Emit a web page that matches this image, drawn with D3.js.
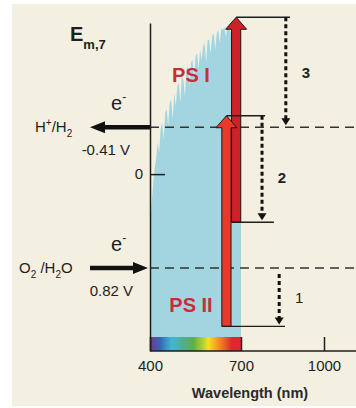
<!DOCTYPE html>
<html>
<head>
<meta charset="utf-8">
<script src="https://cdn.jsdelivr.net/npm/d3@7"></script>
<style>
  html, body { margin: 0; padding: 0; background: #fff; }
  svg { display: block; font-family: "Liberation Sans", Arial, sans-serif; }
</style>
</head>
<body>
<div id="chart"></div>
<script>
const specNm = [400, 405, 410, 415, 420, 425, 430, 435, 440, 445, 450, 455, 460, 465, 470, 475, 480, 485, 490, 495,
  500, 505, 510, 515, 520, 525, 530, 535, 540, 545, 550, 555, 560, 565, 570, 575, 580, 585, 590, 595,
  600, 605, 610, 615, 620, 625, 630, 635, 640, 645, 650, 655, 660, 665, 670, 675, 680, 685, 690, 695, 700];
const specRel = [0.36, 0.44, 0.50, 0.55, 0.58, 0.63, 0.60, 0.67, 0.69, 0.64, 0.72, 0.73, 0.68, 0.75, 0.76, 0.70, 0.78, 0.74, 0.80, 0.81,
  0.75, 0.83, 0.82, 0.77, 0.85, 0.86, 0.80, 0.87, 0.88, 0.82, 0.89, 0.90, 0.85, 0.91, 0.88, 0.92, 0.93, 0.87, 0.94, 0.94,
  0.90, 0.95, 0.96, 0.91, 0.96, 0.97, 0.93, 0.975, 0.97, 0.98, 0.95, 0.98, 0.98, 0.96, 0.98, 0.985, 0.97, 0.985, 0.985, 0.985, 0.985];

// rainbow strip along the wavelength axis
const bandNm = [400, 433, 471, 504, 543, 576, 592, 631, 669, 700];
const bandColors = ["#7a3590", "#3566b0", "#45b5d5", "#4fae9a", "#5cae46", "#b8d232", "#f6e11c", "#f0862a", "#e3262d", "#e3262d"];

const xTicks = [400, 700, 1000];
const yTicks = [0];

// redox couples on the Em,7 axis
const coupleE = [-0.41, 0.82];
const coupleVolts = ["-0.41 V", "0.82 V"];

// photosystem levels (V): ground state and excited state
const psNames = ["PS II", "PS I"];
const psGround = [1.33, 0.42];
const psExcited = [-0.51, -1.37];
const psNm = [652, 684];

// numbered electron transfer steps: from -> to (V)
const stepNames = ["1", "2", "3"];
const stepFrom = [0.82, -0.51, -1.37];
const stepTo = [1.33, 0.42, -0.41];
const stepNm = [838, 776, 862];

const width = 356, height = 408;
const ink = "#1e1e1e";
const font = "\"Liberation Sans\", Arial, sans-serif";

const svg = d3.select("#chart").append("svg")
  .attr("width", width)
  .attr("height", height);

svg.append("rect")
  .attr("x", 12).attr("y", 4)
  .attr("width", width - 12).attr("height", height - 6)
  .attr("fill", "#f3f0e1");

const x = d3.scaleLinear().domain([400, 700, 1000]).range([150, 241, 324]);
const y = d3.scaleLinear().domain([-1.32, 1.545]).range([23, 351]);
const spec = d3.scaleLinear().domain([0, 1]).range([351, 20]);
const x0 = x(400), yBase = y(1.545);

// spectrum area
const area = d3.area()
  .x((d, i) => x(specNm[i]))
  .y0(yBase)
  .y1((d) => spec(d));
svg.append("path")
  .attr("d", area(specRel))
  .attr("fill", "#a3d5e1");

// color strip
const grad = svg.append("defs").append("linearGradient")
  .attr("id", "rainbow")
  .attr("x1", 0).attr("x2", 1).attr("y1", 0).attr("y2", 0);
grad.selectAll("stop")
  .data(bandNm)
  .enter()
  .append("stop")
  .attr("offset", (d) => (d - 400) / 300)
  .attr("stop-color", (d, i) => bandColors[i]);
svg.append("rect")
  .attr("x", x(400)).attr("y", yBase - 14)
  .attr("width", x(700) - x(400)).attr("height", 14)
  .attr("fill", "url(#rainbow)");

// dashed redox lines
svg.append("g")
  .selectAll("line")
  .data(coupleE)
  .enter()
  .append("line")
  .attr("x1", x0).attr("x2", width)
  .attr("y1", (d) => y(d)).attr("y2", (d) => y(d))
  .attr("stroke", "#333")
  .attr("stroke-width", 1.5)
  .attr("stroke-dasharray", "9,6");

// thick black arrows: H+/H2 points left, O2/H2O points right
function blockArrow(xFrom, xTo, yc, half, headHalf, headLen) {
  const dir = xTo > xFrom ? 1 : -1;
  const hb = xTo - dir * headLen;
  return `M${xFrom},${yc - half}H${hb}V${yc - headHalf}L${xTo},${yc}L${hb},${yc + headHalf}V${yc + half}H${xFrom}Z`;
}
svg.append("path").attr("d", blockArrow(x0, 90, y(coupleE[0]), 2.2, 6, 15)).attr("fill", "#111");
svg.append("path").attr("d", blockArrow(90, x0 - 2, y(coupleE[1]), 2.2, 6, 15)).attr("fill", "#111");

// axes
svg.append("g")
  .attr("transform", `translate(${x0},0)`)
  .call(d3.axisLeft(y).tickValues(yTicks).tickSize(-15).tickSizeOuter(0).tickPadding(7).tickFormat(d3.format("d")))
  .call((g) => g.select(".domain").attr("stroke", ink).attr("stroke-width", 1.5))
  .call((g) => g.selectAll(".tick line").attr("stroke", ink).attr("stroke-width", 1.5))
  .call((g) => g.selectAll("text").attr("font-size", 15).attr("font-family", font).attr("fill", ink));

svg.append("g")
  .attr("transform", `translate(0,${yBase})`)
  .call(d3.axisBottom(x).tickValues(xTicks).tickSize(-14).tickSizeOuter(0).tickPadding(9).tickFormat(d3.format("d")))
  .call((g) => g.select(".domain").remove())
  .call((g) => g.selectAll(".tick line").attr("stroke", ink).attr("stroke-width", 1.5))
  .call((g) => g.selectAll("text").attr("font-size", 15).attr("font-family", font).attr("fill", ink));
svg.append("line")
  .attr("x1", x0).attr("x2", width)
  .attr("y1", yBase).attr("y2", yBase)
  .attr("stroke", ink).attr("stroke-width", 1.5);

// red excitation arrows (PS I drawn first, PS II sits on top)
const psFill = ["#e8392b", "#cc2229"];
function upArrow(cx, yBot, yTop) {
  const s = 4.6, h = 10.5, hl = 12;
  return `M${cx - s},${yBot}V${yTop + hl}H${cx - h}L${cx},${yTop}L${cx + h},${yTop + hl}H${cx + s}V${yBot}Z`;
}
[1, 0].forEach((i) => {
  svg.append("path")
    .attr("d", upArrow(x(psNm[i]), y(psGround[i]), y(psExcited[i])))
    .attr("fill", psFill[i])
    .attr("stroke", "#2a1212")
    .attr("stroke-width", 1);
});

// level lines
const levelEnds = [[859, 787], [819, 877]];
psNames.forEach((name, i) => {
  const cx = x(psNm[i]);
  svg.append("line")
    .attr("x1", cx - 4.6).attr("x2", x(levelEnds[i][0]))
    .attr("y1", y(psGround[i])).attr("y2", y(psGround[i]))
    .attr("stroke", ink).attr("stroke-width", 1.4);
  svg.append("line")
    .attr("x1", cx).attr("x2", x(levelEnds[i][1]))
    .attr("y1", y(psExcited[i])).attr("y2", y(psExcited[i]))
    .attr("stroke", ink).attr("stroke-width", 1.4);
});

// dotted downhill arrows
const labelDy = [6, 14, 6];
stepNames.forEach((name, i) => {
  const sx = x(stepNm[i]);
  const yA = y(stepFrom[i]) + (i === 0 ? 6 : 0);
  const yB = y(stepTo[i]) - 2;
  svg.append("line")
    .attr("x1", sx).attr("x2", sx)
    .attr("y1", yA).attr("y2", yB - 6)
    .attr("stroke", "#111").attr("stroke-width", 3)
    .attr("stroke-dasharray", "4,3");
  svg.append("path")
    .attr("d", `M${sx - 4.5},${yB - 7}H${sx + 4.5}L${sx},${yB}Z`)
    .attr("fill", "#111");
  svg.append("text")
    .attr("x", sx + 20)
    .attr("y", (y(stepFrom[i]) + y(stepTo[i])) / 2 + labelDy[i])
    .attr("text-anchor", "middle")
    .attr("font-size", 15)
    .attr("font-weight", i === 0 ? "normal" : "bold")
    .attr("fill", "#222")
    .text(name);
});

// photosystem labels
const psLabelE = [1.2, -0.805];
psNames.forEach((name, i) => {
  svg.append("text")
    .attr("x", 191)
    .attr("y", y(psLabelE[i]))
    .attr("text-anchor", "middle")
    .attr("font-size", 20)
    .attr("font-weight", "bold")
    .attr("fill", "#c92c3c")
    .text(name);
});

// Em,7 title
const title = svg.append("text")
  .attr("x", 70).attr("y", 41)
  .attr("font-weight", "bold")
  .attr("fill", ink);
title.append("tspan").attr("font-size", 20).text("E");
title.append("tspan").attr("font-size", 13).attr("dy", 8).text("m,7");

// couple labels with sub/superscripts
function rich(parent, xPos, yPos, parts) {
  const t = parent.append("text")
    .attr("x", xPos).attr("y", yPos)
    .attr("font-size", 15)
    .attr("fill", ink);
  let shift = 0;
  parts.forEach(([s, kind]) => {
    const target = kind === "sub" ? 5 : kind === "sup" ? -6 : 0;
    t.append("tspan")
      .attr("dy", target - shift)
      .attr("font-size", kind ? 10 : 15)
      .text(s);
    shift = target;
  });
  return t;
}
rich(svg, 35, y(coupleE[0]) + 5, [["H", null], ["+", "sup"], ["/H", null], ["2", "sub"]]);
rich(svg, 19, y(coupleE[1]) + 5, [["O", null], ["2", "sub"], [" /H", null], ["2", "sub"], ["O", null]]);

coupleE.forEach((e, i) => {
  svg.append("text")
    .attr("x", i === 0 ? 130 : 133)
    .attr("y", y(e) + 28)
    .attr("text-anchor", "end")
    .attr("font-size", 15)
    .attr("fill", ink)
    .text(coupleVolts[i]);
  const el = svg.append("text")
    .attr("x", 111)
    .attr("y", y(e) - 17)
    .attr("fill", ink);
  el.append("tspan").attr("font-size", 20).text("e");
  el.append("tspan").attr("font-size", 12).attr("dy", -9).text("-");
});

svg.append("text")
  .attr("x", 250).attr("y", 398)
  .attr("text-anchor", "middle")
  .attr("font-size", 14.5)
  .attr("font-weight", "bold")
  .attr("fill", "#2a2a2a")
  .text("Wavelength (nm)");
</script>
</body>
</html>
